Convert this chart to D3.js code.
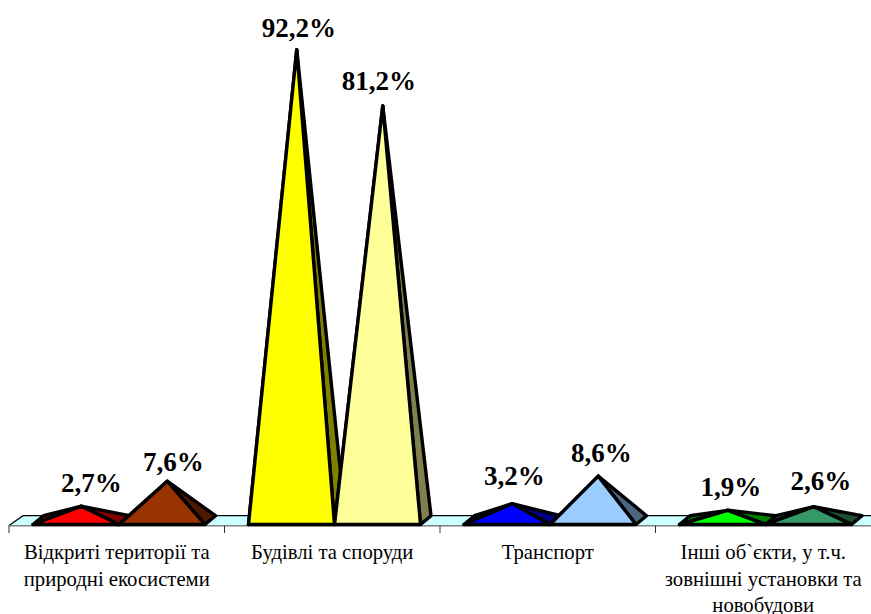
<!DOCTYPE html>
<html><head><meta charset="utf-8">
<script src="https://cdn.jsdelivr.net/npm/d3@7/dist/d3.min.js"></script>
<style>html,body{margin:0;padding:0;background:#fff}svg{display:block}</style>
</head><body><svg id="c" width="871" height="614"></svg>
<script>
const categories=[["Відкриті території та","природні екосистеми"],["Будівлі та споруди"],["Транспорт"],["Інші об`єкти, у т.ч.","зовнішні установки та","новобудови"]];
const seriesA=[2.7,92.2,3.2,1.9];
const seriesB=[7.6,81.2,8.6,2.6];
const labelsA=["2,7%","92,2%","3,2%","1,9%"];
const labelsB=["7,6%","81,2%","8,6%","2,6%"];
const frontA=["#ff0000","#ffff00","#0000ff","#00ff00"];
const sideA=["#800000","#808000","#000080","#008000"];
const frontB=["#993300","#ffff99","#99ccff","#339966"];
const sideB=["#4d1a00","#80804d","#4d6680","#1a4d33"];
const nudgeA=[[10,-14],[2,-13],[2,-19],[3,-14]];
const nudgeB=[[6,-10],[-4,-16],[3,-14],[7,-17]];

const svg=d3.select("#c");
const front=524.5, back=515.7, depth=10.5, mid=520;
const x=d3.scaleBand().domain(d3.range(4)).range([9,871]);
const inner=d3.scaleBand().domain([0,1]).range([24,196]);
const y=d3.scaleLinear().domain([0,100]).range([mid,mid-510]);

// floor
svg.append("path").attr("d",`M9,525.5L${9+14},${back}L871,${back}L871,525.5Z`).attr("fill","#ccffff");
svg.append("path").attr("d",`M9,525.5L${9+14},${back}L871,${back}`).attr("fill","none").attr("stroke","#000").attr("stroke-width",1.2);
// axis
const axis=svg.append("g").attr("stroke","#808080").attr("stroke-width",1.5);
axis.append("line").attr("x1",8.5).attr("x2",871).attr("y1",525.7).attr("y2",525.7);
axis.selectAll("line.t").data(d3.range(4)).join("line").attr("class","t")
  .attr("x1",i=>x(i)).attr("x2",i=>x(i)).attr("y1",525.7).attr("y2",533).attr("stroke","#333").attr("stroke-width",1);

function pyramid(g,i,s,val,fc,sc){
  const x0=x(i)+inner(s), x1=x0+inner.bandwidth();
  const ax=(x0+x1+depth)/2, ay=y(val);
  const st={stroke:"#000","stroke-width":3.4,"stroke-linejoin":"round"};
  const poly=(pts,fill)=>{const p=g.append("polygon").attr("points",pts.map(q=>q.join(",")).join(" ")).attr("fill",fill);
    Object.entries(st).forEach(([k,v])=>p.attr(k,v));};
  poly([[x0,front],[x0+depth,back],[ax,ay]],sc);
  poly([[x1,front],[x1+depth,back],[ax,ay]],sc);
  poly([[x0,front],[x1,front],[ax,ay]],fc);
  return ax;
}
const marks=svg.append("g");
const apexA=[],apexB=[];
d3.range(4).forEach(i=>{
  apexA[i]=pyramid(marks,i,0,seriesA[i],frontA[i],sideA[i]);
  apexB[i]=pyramid(marks,i,1,seriesB[i],frontB[i],sideB[i]);
});
const serif="'Liberation Serif','Times New Roman',serif";
const lab=svg.append("g").attr("font-family",serif).attr("font-size",27).attr("font-weight","bold").attr("fill","#000").attr("text-anchor","middle");
d3.range(4).forEach(i=>{
  lab.append("text").attr("x",apexA[i]+nudgeA[i][0]).attr("y",y(seriesA[i])+nudgeA[i][1]).text(labelsA[i]);
  lab.append("text").attr("x",apexB[i]+nudgeB[i][0]).attr("y",y(seriesB[i])+nudgeB[i][1]).text(labelsB[i]);
});
const cat=svg.append("g").attr("font-family",serif).attr("font-size",20.7).attr("fill","#000").attr("text-anchor","middle");
categories.forEach((lines,i)=>{
  const cx=x(i)+x.bandwidth()/2;
  lines.forEach((t,j)=>cat.append("text").attr("x",cx).attr("y",559+j*26.6).text(t));
});
</script></body></html>
